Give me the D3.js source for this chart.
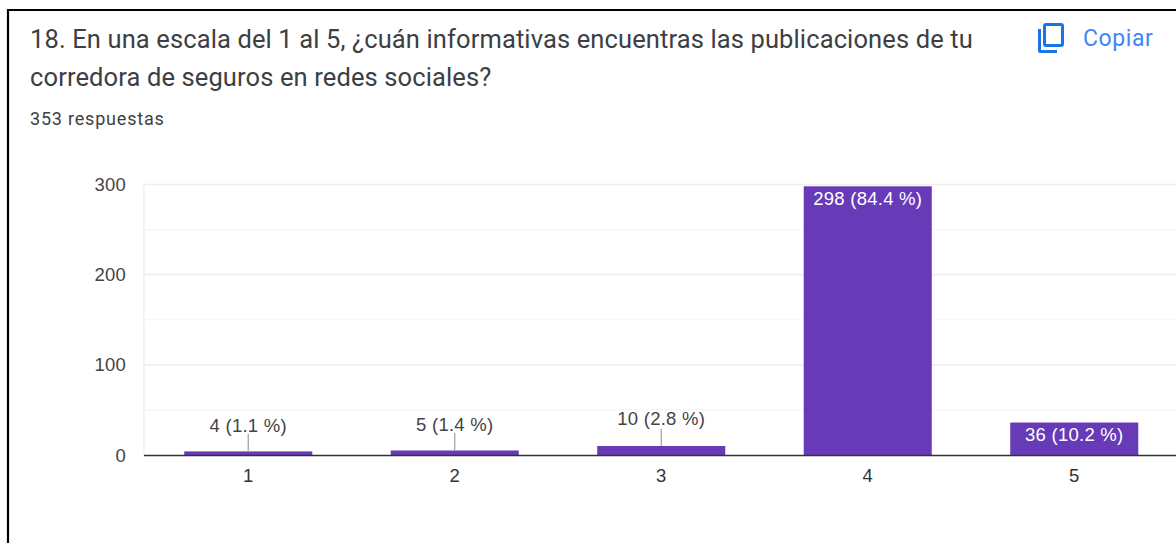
<!DOCTYPE html>
<html><head><meta charset="utf-8">
<script src="https://cdn.jsdelivr.net/npm/d3@7/dist/d3.min.js"></script>
<style>html,body{margin:0;padding:0;background:#fff;overflow:hidden}svg{display:block}text{font-family:Roboto,sans-serif}</style>
</head><body><svg id="c" width="1176" height="543"></svg>
<script>
const categories = ["1","2","3","4","5"];
const counts = [4,5,10,298,36];
const percents = ["1.1","1.4","2.8","84.4","10.2"];
const yTicks = [0,100,200,300];
const yMinorTicks = [50,150,250];
const titleLines = ["18. En una escala del 1 al 5, ¿cuán informativas encuentras las publicaciones de tu","corredora de seguros en redes sociales?"];
const subtitle = "353 respuestas";
const copyLabel = "Copiar";

const svg = d3.select("#c");
const arial = "Arial,'Liberation Sans',sans-serif";
const x = d3.scaleBand().domain(categories).range([145,1177.5]).paddingInner(0.38).paddingOuter(0.19);
const y = d3.scaleLinear().domain([0,300]).range([455,184.5]);
const cx = c => x(c)+x.bandwidth()/2;

svg.append("path").attr("d","M8 543V10H1176").attr("fill","none").attr("stroke","#000").attr("stroke-width",2.2);

svg.selectAll(".t").data(titleLines).join("text").attr("x",30).attr("y",(d,i)=>48+i*38)
  .attr("font-size",25.5).attr("letter-spacing",0.12).attr("fill","#3c4043").text(d=>d);
svg.append("text").attr("x",30).attr("y",125).attr("font-size",18).attr("letter-spacing",0.8).attr("fill","#3c4043").text(subtitle);

svg.append("g").attr("fill","none").attr("stroke","#1a73e8").attr("stroke-width",3).call(g=>{
  g.append("rect").attr("x",1044.5).attr("y",24.5).attr("width",18).attr("height",21).attr("rx",1.5);
  g.append("path").attr("d","M1039.5 29V50.5a1 1 0 0 0 1 1H1057");
});
svg.append("text").attr("x",1083).attr("y",45.5).attr("font-size",23).attr("font-weight",400).attr("letter-spacing",0.6).attr("fill","#4285f4").text(copyLabel);

svg.selectAll(".minor").data(yMinorTicks).join("line").attr("x1",144).attr("x2",1176)
  .attr("y1",d=>y(d)).attr("y2",d=>y(d)).attr("stroke","#f6f6f6").attr("stroke-width",1.2);
svg.selectAll(".major").data(yTicks.filter(d=>d>0)).join("line").attr("x1",144).attr("x2",1176)
  .attr("y1",d=>y(d)).attr("y2",d=>y(d)).attr("stroke","#eeeeee").attr("stroke-width",1.6);
svg.append("line").attr("x1",144).attr("x2",144).attr("y1",y(300)).attr("y2",y(0)).attr("stroke","#f1f1f1").attr("stroke-width",1.6);

svg.selectAll(".yl").data(yTicks).join("text").attr("x",126).attr("y",d=>y(d)+6.5).attr("text-anchor","end")
  .attr("font-size",18.5).attr("letter-spacing",0.25).attr("fill","#444").style("font-family",arial).text(d=>d);

const idx = categories.map((c,i)=>i);
svg.selectAll(".bar").data(idx).join("rect").attr("x",i=>x(categories[i])).attr("width",x.bandwidth())
  .attr("y",i=>y(counts[i])).attr("height",i=>y(0)-y(counts[i])).attr("fill","#673ab7");

svg.append("line").attr("x1",144).attr("x2",1176).attr("y1",455.5).attr("y2",455.5).attr("stroke","#333").attr("stroke-width",1.5);

svg.selectAll(".xl").data(categories).join("text").attr("x",cx).attr("y",482).attr("text-anchor","middle")
  .attr("font-size",18.5).attr("letter-spacing",0.25).attr("fill","#333").style("font-family",arial).text(d=>d);

const inside = i => counts[i]>=30;
const outY = [432,431,425];
const leadTop = [434,433,429];
svg.selectAll(".lead").data(idx.filter(i=>!inside(i))).join("line").attr("x1",i=>cx(categories[i])).attr("x2",i=>cx(categories[i]))
  .attr("y1",i=>leadTop[i]).attr("y2",i=>y(counts[i])).attr("stroke","#9e9e9e").attr("stroke-width",1.2);
svg.selectAll(".dl").data(idx).join("text").attr("x",i=>cx(categories[i]))
  .attr("y",i=>inside(i)?y(counts[i])+18.5:outY[i])
  .attr("text-anchor","middle").attr("letter-spacing",0.25)
  .attr("font-size",18.5).attr("font-weight",400).attr("fill",i=>inside(i)?"#fff":"#444")
  .style("font-family",arial).text(i=>`${counts[i]} (${percents[i]} %)`);
</script></body></html>
